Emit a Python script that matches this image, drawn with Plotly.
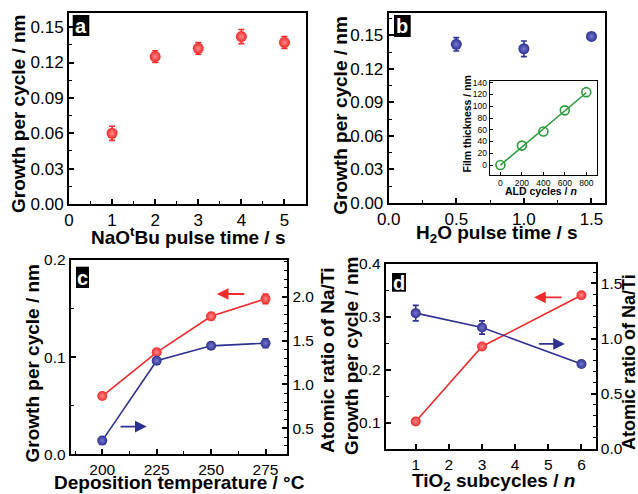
import numpy as np
import plotly.graph_objects as go

W, H = 638, 494
# ---------------- data ----------------
a_x = [1, 2, 3, 4, 5]
a_gpc = [0.060, 0.125, 0.132, 0.142, 0.137]
a_err = [0.006, 0.005, 0.005, 0.006, 0.005]

b_x = [0.5, 1.0, 1.5]
b_gpc = [0.142, 0.138, 0.149]
b_err = [0.006, 0.007, 0.003]

inset_cycles = [0, 200, 400, 600, 800]
inset_thick = [0, 33, 57, 93, 124]

c_temp = [200, 225, 250, 275]
c_gpc = [0.060, 0.105, 0.142, 0.160]
c_gpc_err = [0.002, 0.002, 0.002, 0.005]
c_ratio = [0.36, 1.27, 1.44, 1.47]
c_ratio_err = [0.02, 0.03, 0.03, 0.05]

d_n = [1, 3, 6]
d_gpc = [0.102, 0.244, 0.341]
d_gpc_err = [0.002, 0.003, 0.003]
d_ratio = [1.23, 1.10, 0.77]
d_ratio_err = [0.07, 0.06, 0.02]

RED = "#ee2a2a"
RED_HI = "#ff8a8a"
BLUE = "#2e3192"
BLUE_HI = "#7679cc"
GREEN = "#2a9a3a"
FONT = "Liberation Sans, Arial, sans-serif"


def px(x):
    return x / W


def py(y):
    return 1 - y / H


fig = go.Figure()


def ball(x, y, err, color, hi, xa, ya, line=False, size=11):
    fig.add_trace(go.Scatter(
        x=x, y=y, xaxis=xa, yaxis=ya,
        mode="lines+markers" if line else "markers",
        line=dict(color=color, width=1.6),
        marker=dict(size=size, color=color,
                    gradient=dict(type="radial", color=hi),
                    line=dict(width=0)),
        error_y=dict(type="data", array=err, color=color, thickness=1.6, width=3),
        showlegend=False, hoverinfo="skip"))


ball(a_x, a_gpc, a_err, RED, RED_HI, "x", "y")
ball(b_x, b_gpc, b_err, BLUE, BLUE_HI, "x2", "y2")

# inset fit line
coef = np.polyfit(inset_cycles, inset_thick, 1)
fx = [min(inset_cycles), max(inset_cycles)]
fig.add_trace(go.Scatter(x=fx, y=[coef[0] * v + coef[1] for v in fx], xaxis="x3", yaxis="y3",
                         mode="lines", line=dict(color=GREEN, width=1.5),
                         showlegend=False, hoverinfo="skip"))
fig.add_trace(go.Scatter(x=inset_cycles, y=inset_thick, xaxis="x3", yaxis="y3",
                         mode="markers",
                         marker=dict(size=9, color="rgba(0,0,0,0)", line=dict(color=GREEN, width=1.6)),
                         showlegend=False, hoverinfo="skip"))

ball(c_temp, c_gpc, c_gpc_err, RED, RED_HI, "x4", "y4", line=True, size=10)
ball(c_temp, c_ratio, c_ratio_err, BLUE, BLUE_HI, "x4", "y5", line=True, size=10)
ball(d_n, d_gpc, d_gpc_err, RED, RED_HI, "x5", "y6", line=True, size=10)
ball(d_n, d_ratio, d_ratio_err, BLUE, BLUE_HI, "x5", "y7", line=True, size=10)

TICKF = dict(family=FONT, size=17, color="black")
TICKF2 = dict(family=FONT, size=15.5, color="black")


def ax(domain, rng, dtick, fmt=None, minor=None, anchor=None, tickfont=TICKF, tick0=None, **kw):
    d = dict(domain=domain, range=rng, dtick=dtick, tickmode="linear",
             ticks="inside", ticklen=5, tickwidth=1.5, tickcolor="black",
             showline=True, linewidth=2, linecolor="black", mirror=True,
             showgrid=False, zeroline=False, tickfont=tickfont, anchor=anchor,
             fixedrange=True, automargin=False)
    if tick0 is not None:
        d["tick0"] = tick0
    if fmt:
        d["tickformat"] = fmt
    if minor:
        d["minor"] = dict(dtick=minor, ticks="inside", ticklen=3, tickwidth=1.2,
                          tickcolor="black", showgrid=False)
    d.update(kw)
    return d


layout = dict(
    width=W, height=H, margin=dict(l=0, r=0, t=0, b=0, autoexpand=False),
    paper_bgcolor="white", plot_bgcolor="white", showlegend=False,
    font=dict(family=FONT, color="black"),
)

# panel a
layout["xaxis"] = ax([px(69), px(306)], [0, 5.5], 1, minor=0.5, anchor="y", tick0=0)
layout["yaxis"] = ax([py(204), py(13)], [0, 0.162], 0.03, fmt=".2f", minor=0.015, anchor="x", tick0=0)
# panel b
layout["xaxis2"] = ax([px(388.7), px(605)], [0, 1.6], 0.5, fmt=".1f", minor=0.25, anchor="y2", tick0=0)
layout["yaxis2"] = ax([py(203), py(13)], [0, 0.17], 0.03, fmt=".2f", minor=0.015, anchor="x2", tick0=0)
# inset
INF = dict(family=FONT, size=8.5, color="black")
layout["xaxis3"] = ax([px(489.7), px(597)], [-100, 900], 200, anchor="y3", tickfont=INF, tick0=0,
                      ticks="inside", ticklen=3, tickwidth=1, linewidth=1.2)
layout["yaxis3"] = ax([py(175), py(81)], [-17, 143], 20, anchor="x3", tickfont=INF, tick0=0,
                      ticks="inside", ticklen=3, tickwidth=1, linewidth=1.2)
# panel c
layout["xaxis4"] = ax([px(70.7), px(287.3)], [185.5, 285], 25, minor=12.5, anchor="y4", tickfont=TICKF2, tick0=200)
layout["yaxis4"] = ax([py(454.3), py(260)], [0, 0.2], 0.1, fmt=".1f", minor=0.05, anchor="x4", tickfont=TICKF2, tick0=0)
layout["yaxis5"] = ax([py(454.3), py(260)], [0.204, 2.418], 0.5, fmt=".1f", minor=0.1, anchor="x4",
                      tickfont=TICKF2, tick0=0, overlaying="y4", side="right", mirror=False)
# panel d
layout["xaxis5"] = ax([px(385.7), px(595.7)], [0.094, 6.43], 1, anchor="y6", tickfont=TICKF2, tick0=0)
layout["yaxis6"] = ax([py(449), py(264)], [0.05, 0.4], 0.1, fmt=".1f", minor=0.05, anchor="x5", tickfont=TICKF2, tick0=0)
layout["yaxis7"] = ax([py(449), py(264)], [0, 1.675], 0.5, fmt=".1f", minor=0.1, anchor="x5",
                      tickfont=TICKF2, tick0=0, overlaying="y6", side="right", mirror=False)

TF = dict(family=FONT, size=19, color="black")
ITF = dict(family=FONT, size=10.5, color="black")
ann = []


def title(text, x, y, rot=False, font=TF):
    ann.append(dict(text=text, x=px(x), y=py(y), xref="paper", yref="paper",
                    showarrow=False, xanchor="center", yanchor="middle",
                    textangle=-90 if rot else 0, font=font))


YT = "<b>Growth per cycle / nm</b>"
RT = "<b>Atomic ratio of Na/Ti</b>"
title(YT, 18, 114, rot=True)
title("<b>NaO<sup>t</sup>Bu pulse time / s</b>", 188, 236)
title(YT, 339.7, 115, rot=True)
title("<b>H<sub>2</sub>O pulse time / s</b>", 497, 234)
title("<b>Film thickness / nm</b>", 466, 124.5, rot=True, font=ITF)
title("<b>ALD cycles / <i>n</i></b>", 541, 190.5, font=ITF)
title(YT, 31.5, 363, rot=True)
title("<b>Deposition temperature / °C</b>", 180, 482)
title(RT, 327, 360, rot=True)
title(YT, 351, 356, rot=True)
title(RT, 629, 362, rot=True, font=dict(family=FONT, size=18, color="black"))
title("<b>TiO<sub>2</sub> subcycles / <i>n</i></b>", 493, 482)

# panel letters
shapes = []
letters = [("a", 72.7, 89.3, 15, 36), ("b", 394, 410.7, 15, 37),
           ("c", 76, 89, 266.7, 288), ("d", 392, 406, 273, 291.7)]
for t, x0, x1, y0, y1 in letters:
    shapes.append(dict(type="rect", xref="paper", yref="paper", x0=px(x0), x1=px(x1),
                       y0=py(y1), y1=py(y0), fillcolor="black", line=dict(width=0)))
    ann.append(dict(text="<b>%s</b>" % t, x=px((x0 + x1) / 2), y=py((y0 + y1) / 2 + 0.5),
                    xref="paper", yref="paper", showarrow=False, xanchor="center",
                    yanchor="middle", font=dict(family=FONT, size=20, color="white")))


def arrow(xr, yr, x_from, x_to, yv, color):
    ann.append(dict(text="", x=x_to, y=yv, ax=x_from, ay=yv, xref=xr, yref=yr,
                    axref=xr, ayref=yr, showarrow=True, arrowhead=2, arrowsize=1.3,
                    arrowwidth=1.8, arrowcolor=color))


arrow("x4", "y4", 265.9, 252.6, 0.165, RED)
arrow("x4", "y5", 207.7, 220.4, 0.52, BLUE)
arrow("x5", "y6", 5.45, 4.57, 0.337, RED)
arrow("x5", "y7", 4.67, 5.5, 0.951, BLUE)

layout["annotations"] = ann
layout["shapes"] = shapes
fig.update_layout(**layout)
fig.write_html("out.html", config={"displayModeBar": False},
               post_script="document.body.style.margin='0';document.body.style.overflow='hidden';")
